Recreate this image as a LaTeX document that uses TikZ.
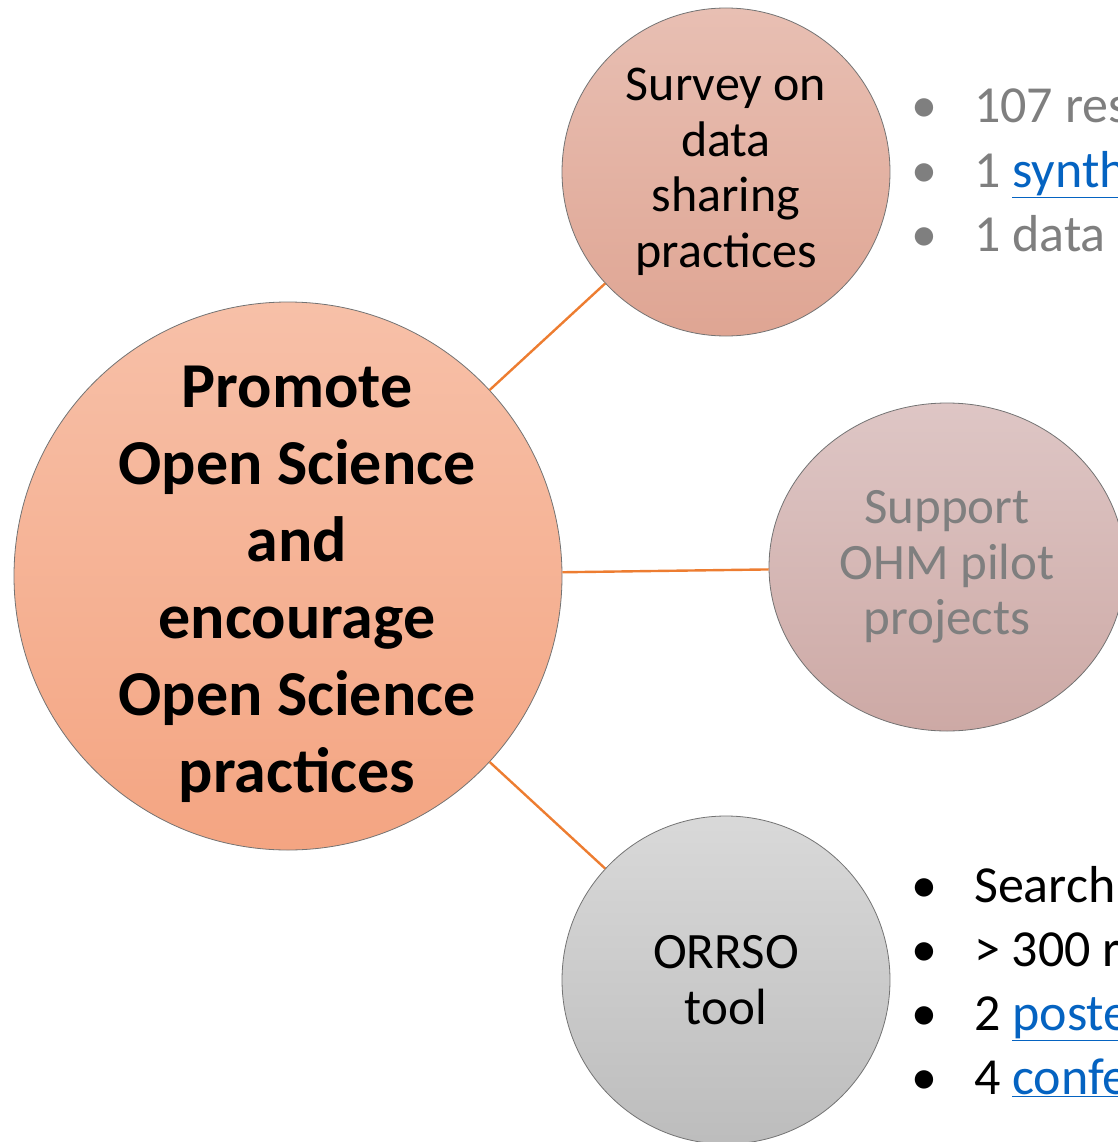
\documentclass[tikz,border=0pt]{standalone}
\usepackage{fontspec}
\setmainfont{Carlito}
\usetikzlibrary{shapes.geometric}
\definecolor{linkblue}{HTML}{0563C1}
\definecolor{textgrey}{HTML}{7F7F7F}
\definecolor{linkorange}{HTML}{ED7D31}
\newcommand{\bulletline}[1]{\makebox[63pt][l]{\textbullet}#1}
\begin{document}
\begin{tikzpicture}[x=1pt,y=-1pt,
    bubble/.style={circle,draw=black!55,line width=0.8pt,inner sep=0pt,align=center},
    spoke/.style={linkorange,line width=2.4pt},
    itemtext/.style={anchor=base west,inner sep=0pt,font=\fontsize{52}{64}\selectfont}]
    \useasboundingbox (0,0) rectangle (1117,1142);
    \node[bubble,minimum size=548pt,top color={rgb,255:red,247;green,192;blue,168},
        bottom color={rgb,255:red,244;green,165;blue,130}] at (288,576) (goal) {};
    \node[align=center,inner sep=0pt,font=\fontsize{64}{77}\selectfont\bfseries]
        at (297,584) (goaltext)
        {Promote\\Open Science\\and\\encourage\\Open Science\\practices};
    \node[bubble,minimum size=328pt,top color={rgb,255:red,232;green,191;blue,179},
        bottom color={rgb,255:red,223;green,165;blue,147},
        font=\fontsize{50}{55.5}\selectfont] at (726,172) (survey)
        {Survey on\\data\\sharing\\practices};
    \node[bubble,ellipse,minimum width=356pt,minimum height=328pt,
        top color={rgb,255:red,222;green,198;blue,197},
        bottom color={rgb,255:red,205;green,169;blue,165},
        text=textgrey,font=\fontsize{51}{55.5}\selectfont] at (947,567) (pilot)
        {Support\\OHM pilot\\projects};
    \node[bubble,minimum size=328pt,top color=black!15,bottom color=black!26,
        font=\fontsize{51}{55.5}\selectfont] at (726,980) (orrso)
        {ORRSO\\tool};
    \draw[spoke] (goal) -- (survey);
    \draw[spoke] (goal) -- (pilot);
    \draw[spoke] (goal) -- (orrso);
    % survey results
    \node[itemtext,text=textgrey] at (911,123) (res) {\bulletline{107 res}};
    \node[itemtext,text=textgrey] at (911,187) (synth) {\bulletline{1 {\color{linkblue}\underline{synth}}}};
    \node[itemtext,text=textgrey] at (911,251) (data) {\bulletline{1 data}};
    % orrso results
    \node[itemtext] at (911,902) (search) {\bulletline{Search}};
    \node[itemtext] at (911,966) (more) {\bulletline{> 300 r}};
    \node[itemtext] at (911,1030) (poster) {\bulletline{2 {\color{linkblue}\underline{poste}}}};
    \node[itemtext] at (911,1094) (conf) {\bulletline{4 {\color{linkblue}\underline{confe}}}};
\end{tikzpicture}
\end{document}
